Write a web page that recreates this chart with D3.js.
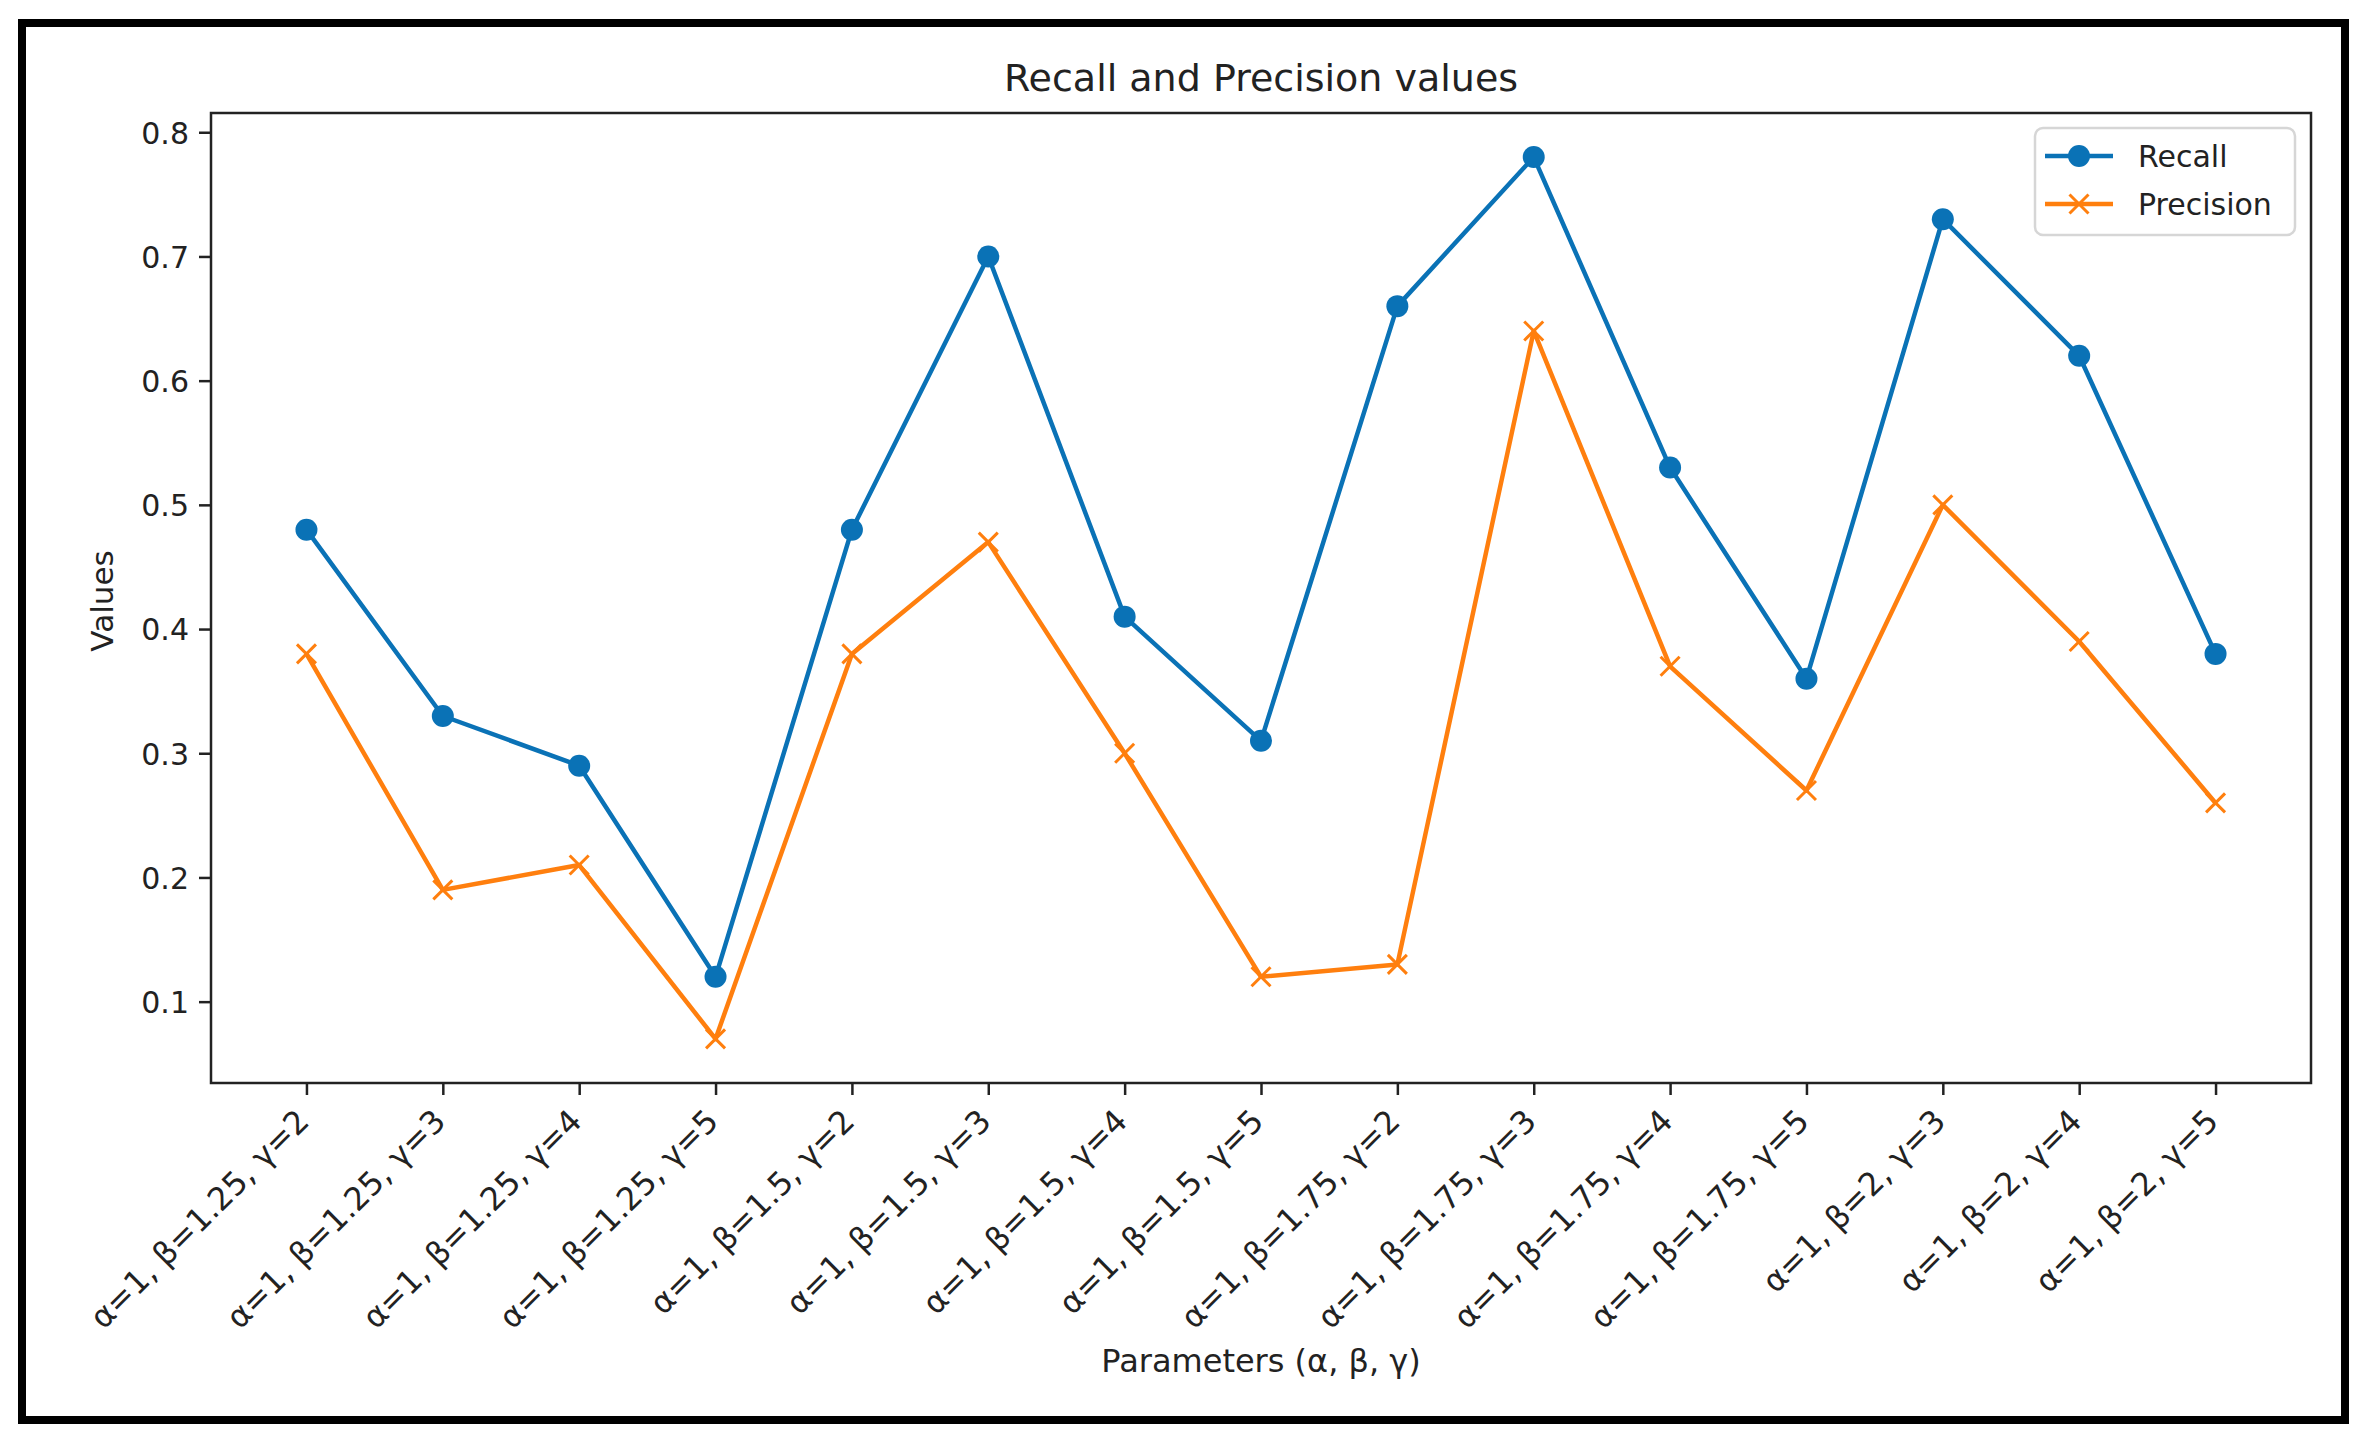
<!DOCTYPE html>
<html>
<head>
<meta charset="utf-8">
<script src="https://cdn.jsdelivr.net/npm/d3@7"></script>
<style>
  body { margin: 0; background: #fff; }
  text { font-family: "DejaVu Sans", sans-serif; fill: #222; }
</style>
</head>
<body>
<svg id="chart"></svg>
<script>
const categories = [
  "α=1, β=1.25, γ=2", "α=1, β=1.25, γ=3", "α=1, β=1.25, γ=4", "α=1, β=1.25, γ=5",
  "α=1, β=1.5, γ=2", "α=1, β=1.5, γ=3", "α=1, β=1.5, γ=4", "α=1, β=1.5, γ=5",
  "α=1, β=1.75, γ=2", "α=1, β=1.75, γ=3", "α=1, β=1.75, γ=4", "α=1, β=1.75, γ=5",
  "α=1, β=2, γ=3", "α=1, β=2, γ=4", "α=1, β=2, γ=5"
];
const recall =    [0.48, 0.33, 0.29, 0.12, 0.48, 0.70, 0.41, 0.31, 0.66, 0.78, 0.53, 0.36, 0.73, 0.62, 0.38];
const precision = [0.38, 0.19, 0.21, 0.07, 0.38, 0.47, 0.30, 0.12, 0.13, 0.64, 0.37, 0.27, 0.50, 0.39, 0.26];
const yTicks = [0.1, 0.2, 0.3, 0.4, 0.5, 0.6, 0.7, 0.8];

const svgWidth = 2365, svgHeight = 1438;
const margin = {top: 113, right: 54, bottom: 355, left: 211};
const width = svgWidth - margin.left - margin.right;
const height = svgHeight - margin.top - margin.bottom;
const blue = "#0a72b6", orange = "#ff7f0e";

let svg = d3.select("#chart")
    .attr("width", svgWidth)
    .attr("height", svgHeight);

// outer frame around the figure
svg.append("rect")
    .attr("x", 22).attr("y", 23)
    .attr("width", 2323).attr("height", 1397)
    .attr("fill", "none")
    .attr("stroke", "#000")
    .attr("stroke-width", 8);

// matplotlib style 5% margins
let n = categories.length;
let lo = d3.min(precision), hi = d3.max(recall);
let pad = (hi - lo) * 0.05;
let x = d3.scaleLinear().domain([-(n - 1) * 0.05, (n - 1) * 1.05]).range([0, width]);
let y = d3.scaleLinear().domain([lo - pad, hi + pad]).range([height, 0]);

let g = svg.append("g")
    .attr("transform", "translate(" + margin.left + "," + margin.top + ")");

// title
g.append("text")
    .attr("x", width / 2)
    .attr("y", -22)
    .attr("text-anchor", "middle")
    .attr("font-size", "38px")
    .text("Recall and Precision values");

// x axis
let xAxis = g.append("g")
    .attr("transform", "translate(0," + height + ")")
    .call(d3.axisBottom(x)
        .tickValues(d3.range(n))
        .tickFormat(i => categories[i])
        .tickSize(12)
        .tickPadding(0));
xAxis.select(".domain").remove();
xAxis.selectAll(".tick line").attr("stroke", "#222").attr("stroke-width", 2.5);
xAxis.selectAll(".tick text")
    .attr("font-size", "32px")
    .attr("fill", "#222")
    .attr("text-anchor", "end")
    .attr("y", null).attr("dy", null)
    .attr("transform", "translate(4,40) rotate(-45)");

// y axis
let yAxis = g.append("g")
    .call(d3.axisLeft(y)
        .tickValues(yTicks)
        .tickFormat(d3.format(".1f"))
        .tickSize(12)
        .tickPadding(10));
yAxis.select(".domain").remove();
yAxis.selectAll(".tick line").attr("stroke", "#222").attr("stroke-width", 2.5);
yAxis.selectAll(".tick text")
    .attr("font-size", "30px")
    .attr("fill", "#222")
    .attr("dy", "0.36em");

// plot frame
g.append("rect")
    .attr("width", width).attr("height", height)
    .attr("fill", "none")
    .attr("stroke", "#222")
    .attr("stroke-width", 2.5);

// axis labels
g.append("text")
    .attr("x", width / 2)
    .attr("y", height + 289)
    .attr("text-anchor", "middle")
    .attr("font-size", "32px")
    .text("Parameters (α, β, γ)");

g.append("text")
    .attr("transform", "rotate(-90)")
    .attr("x", -(601 - margin.top))
    .attr("y", 113 - margin.left)
    .attr("text-anchor", "middle")
    .attr("font-size", "31px")
    .text("Values");

// lines
let line = d3.line()
    .x((d, i) => x(i))
    .y(d => y(d));

g.append("path")
    .datum(recall)
    .attr("d", line)
    .attr("fill", "none")
    .attr("stroke", blue)
    .attr("stroke-width", 4.5)
    .attr("stroke-linejoin", "round");

g.append("path")
    .datum(precision)
    .attr("d", line)
    .attr("fill", "none")
    .attr("stroke", orange)
    .attr("stroke-width", 4.5)
    .attr("stroke-linejoin", "round");

// markers
g.selectAll(".dot")
    .data(recall)
    .enter()
    .append("circle")
    .attr("class", "dot")
    .attr("cx", (d, i) => x(i))
    .attr("cy", d => y(d))
    .attr("r", 11)
    .attr("fill", blue);

const crossPath = s => "M" + (-s) + "," + (-s) + "L" + s + "," + s + "M" + (-s) + "," + s + "L" + s + "," + (-s);

g.selectAll(".cross")
    .data(precision)
    .enter()
    .append("path")
    .attr("class", "cross")
    .attr("transform", (d, i) => "translate(" + x(i) + "," + y(d) + ")")
    .attr("d", crossPath(9.5))
    .attr("stroke", orange)
    .attr("stroke-width", 3)
    .attr("fill", "none");

// legend
let legend = svg.append("g").attr("transform", "translate(2035,128)");
legend.append("rect")
    .attr("width", 260).attr("height", 107)
    .attr("rx", 8)
    .attr("fill", "#fff")
    .attr("stroke", "#d6d6d6")
    .attr("stroke-width", 2.5);

let items = [
    {name: "Recall", color: blue, marker: "circle"},
    {name: "Precision", color: orange, marker: "cross"}
];
items.forEach(function(it, i) {
    let row = legend.append("g").attr("transform", "translate(0," + (28 + i * 48) + ")");
    row.append("line")
        .attr("x1", 10).attr("x2", 78)
        .attr("stroke", it.color)
        .attr("stroke-width", 4.5);
    if (it.marker === "circle") {
        row.append("circle").attr("cx", 44).attr("r", 11).attr("fill", it.color);
    } else {
        row.append("path")
            .attr("transform", "translate(44,0)")
            .attr("d", crossPath(9.5))
            .attr("stroke", it.color)
            .attr("stroke-width", 3);
    }
    row.append("text")
        .attr("x", 103)
        .attr("dy", "0.36em")
        .attr("font-size", "30px")
        .text(it.name);
});
</script>
</body>
</html>
